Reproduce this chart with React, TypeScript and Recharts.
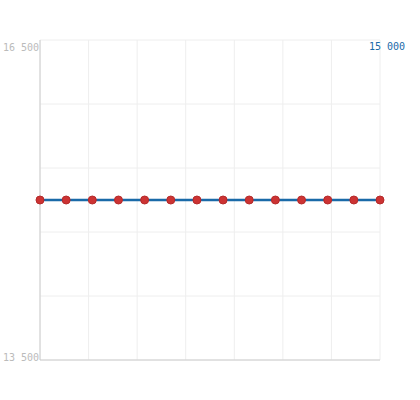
import { LineChart, Line, XAxis, YAxis, CartesianGrid } from "recharts";

const xIndex = [0, 7, 14, 21, 28, 35, 42, 49, 56, 63, 70, 77, 84, 91];
const values = [15000, 15000, 15000, 15000, 15000, 15000, 15000, 15000, 15000, 15000, 15000, 15000, 15000, 15000];
const yTicks = [13500, 16500];
const yGrid = [13500, 14100, 14700, 15300, 15900, 16500];
const xGrid = [0, 13, 26, 39, 52, 65, 78, 91];
const lastLabel = "15 000";

const data = xIndex.map((x, i) => ({ x, value: values[i] }));

const YTick = (props: any) => {
  const { x, y, payload } = props;
  const dy = payload.value === 16500 ? 11 : 1;
  return (
    <text x={x + 7} y={y + dy} textAnchor="end" fill="#bbbbbb" fontSize={10} fontFamily="DejaVu Sans Mono">
      {payload.value === 16500 ? "16 500" : "13 500"}
    </text>
  );
};

export default function App() {
  return (
    <div style={{ position: "absolute", left: 0, top: 0, width: 420, height: 400, background: "#fff" }}>
      <LineChart width={420} height={400} data={data} margin={{ top: 40, right: 40, left: 0, bottom: 39 }}>
        <CartesianGrid stroke="#eeeeee" horizontalValues={yGrid} verticalValues={xGrid} />
        <XAxis
          dataKey="x"
          type="number"
          domain={[0, 91]}
          ticks={xGrid}
          tick={() => null}
          tickLine={false}
          height={1}
          axisLine={{ stroke: "#cccccc" }}
        />
        <YAxis
          domain={[13500, 16500]}
          ticks={yTicks}
          tick={<YTick />}
          tickLine={false}
          width={40}
          axisLine={{ stroke: "#cccccc" }}
        />
        <Line
          dataKey="value"
          stroke="#1a6aa8"
          strokeWidth={2.5}
          dot={{ r: 4, fill: "#cc3333", stroke: "#b52a2a", strokeWidth: 1 }}
          isAnimationActive={false}
        />
      </LineChart>
      <div
        style={{
          position: "absolute",
          right: 15,
          top: 41,
          fontFamily: "DejaVu Sans Mono",
          fontSize: 10,
          color: "#1a6aa8",
        }}
      >
        {lastLabel}
      </div>
    </div>
  );
}
